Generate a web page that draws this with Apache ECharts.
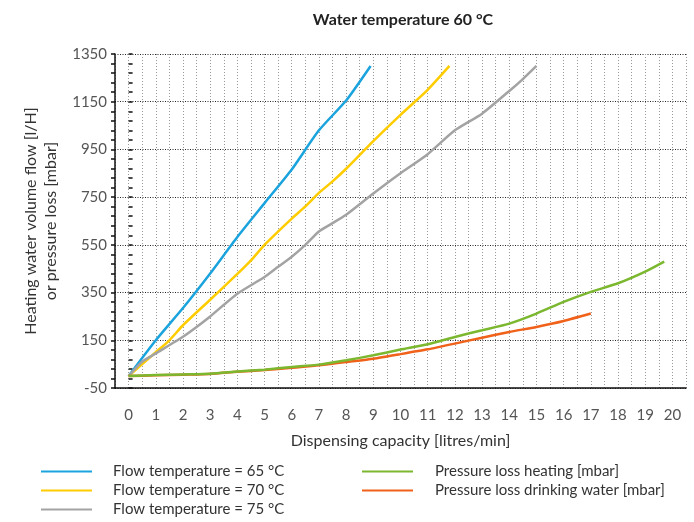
<!DOCTYPE html>
<html>
<head>
<meta charset="utf-8">
<script src="https://cdn.jsdelivr.net/npm/echarts@6/dist/echarts.min.js"></script>
<style>
    html, body { margin: 0; padding: 0; background: #fff; }
    #chart { width: 694px; height: 522px; }
</style>
</head>
<body>
<div id="chart"></div>
<script>
    // Werte
    const flow65X = [0, 1, 2, 3, 4, 5, 6, 7, 8, 8.9];
    const flow65Y = [0, 150, 285, 430, 583, 725, 866, 1030, 1155, 1300];

    const flow70X = [0, 1, 1.5, 2, 3, 4, 4.5, 5, 6, 6.5, 7, 7.5, 8, 9, 10, 11, 11.8];
    const flow70Y = [0, 100, 150, 213, 320, 428, 485, 550, 660, 711, 768, 816, 869, 985, 1095, 1200, 1300];

    const flow75X = [0, 0.5, 1, 2, 2.5, 3, 4, 5, 5.5, 6, 6.5, 7, 7.4, 8, 9, 10, 11, 12, 13, 14, 14.5, 15];
    const flow75Y = [0, 60, 95, 165, 206, 250, 345, 415, 458, 500, 550, 606, 634, 676, 765, 850, 930, 1030, 1100, 1195, 1245, 1300];

    const heatingX = [0, 1, 2, 3, 4, 5, 6, 7, 8, 9, 10, 11, 12, 13, 14, 15, 16, 17, 18, 19, 19.7];
    const heatingY = [0, 4, 7, 10, 19, 27, 38, 48, 66, 87, 111, 133, 164, 192, 220, 262, 311, 353, 389, 438, 480];

    const drinkingX = [0, 1, 2, 3, 4, 5, 6, 7, 8, 9, 10, 11, 12, 13, 14, 15, 16, 17];
    const drinkingY = [0, 3, 6, 9, 18, 25, 35, 45, 59, 73, 92, 112, 136, 161, 185, 206, 231, 262];

    const seriesNames = [
        'Flow temperature = 65 °C',
        'Flow temperature = 70 °C',
        'Flow temperature = 75 °C',
        'Pressure loss heating [mbar]',
        'Pressure loss drinking water [mbar]'
    ];
    const seriesColors = ['#1aa3dc', '#ffcc00', '#a3a3a3', '#7cb82f', '#f0611a'];

    const pairs = (xs, ys) => xs.map((x, i) => [x, ys[i]]);
    const seriesData = [
        pairs(flow65X, flow65Y),
        pairs(flow70X, flow70Y),
        pairs(flow75X, flow75Y),
        pairs(heatingX, heatingY),
        pairs(drinkingX, drinkingY)
    ];

    const font = 'Lato, "Open Sans", sans-serif';

    const chart = echarts.init(document.getElementById('chart'));
    chart.setOption({
        animation: false,
        textStyle: { fontFamily: font },
        title: {
            text: 'Water temperature 60 °C',
            left: 403,
            top: 12,
            padding: 0,
            textAlign: 'center',
            textStyle: { fontFamily: font, fontSize: 16, fontWeight: 'bold', color: '#222' }
        },
        legend: [
            {
                data: seriesNames.slice(0, 3),
                orient: 'vertical',
                left: 41,
                top: 464,
                padding: 0,
                itemWidth: 51,
                itemHeight: 2,
                itemGap: 4,
                icon: 'rect',
                textStyle: { fontFamily: font, fontSize: 15, color: '#333', padding: [0, 0, 0, 16] }
            },
            {
                data: seriesNames.slice(3),
                orient: 'vertical',
                left: 362,
                top: 464,
                padding: 0,
                itemWidth: 51,
                itemHeight: 2,
                itemGap: 4,
                icon: 'rect',
                textStyle: { fontFamily: font, fontSize: 15, color: '#333', padding: [0, 0, 0, 17] }
            }
        ],
        grid: { left: 115, right: 8, top: 54, bottom: 134 },
        xAxis: {
            type: 'value',
            min: -0.5,
            max: 20.5,
            interval: 0.5,
            name: 'Dispensing capacity [litres/min]',
            nameLocation: 'middle',
            nameGap: 45,
            nameTextStyle: { fontFamily: font, fontSize: 16, color: '#333' },
            axisLine: { onZero: false, lineStyle: { color: '#111', width: 1.5 } },
            axisTick: { show: false },
            axisLabel: {
                margin: 20,
                fontSize: 15,
                color: '#555',
                formatter: v => (Number.isInteger(v) && v >= 0 && v <= 20) ? String(v) : ''
            },
            splitLine: { show: true, lineStyle: { color: '#999', width: 1, type: [1, 2] } }
        },
        yAxis: [
            {
                type: 'value',
                min: -50,
                max: 1350,
                interval: 200,
                name: 'Heating water volume flow [l/H]\nor pressure loss [mbar]',
                nameLocation: 'middle',
                nameGap: 54,
                nameTextStyle: { fontFamily: font, fontSize: 16, color: '#333', lineHeight: 20 },
                axisLine: { onZero: false, lineStyle: { color: '#111', width: 1.5 } },
                axisTick: { show: true, length: 4, lineStyle: { color: '#111', width: 1.5 } },
                minorTick: { show: true, splitNumber: 5, length: 4, lineStyle: { color: '#111', width: 1.5 } },
                axisLabel: { margin: 8, fontSize: 15, color: '#555', formatter: v => String(v) },
                splitLine: { show: true, lineStyle: { color: '#222', width: 1, type: [1, 1.5] } }
            },
            {
                type: 'value',
                position: 'left',
                min: -50,
                max: 1350,
                interval: 200,
                axisLine: { show: false },
                axisTick: { show: true, inside: true, length: 4, lineStyle: { color: '#111', width: 1.5 } },
                minorTick: { show: true, splitNumber: 5, length: 4, lineStyle: { color: '#111', width: 1.5 } },
                axisLabel: { show: false },
                splitLine: { show: false }
            }
        ],
        series: seriesNames.map((name, i) => ({
            name: name,
            type: 'line',
            data: seriesData[i],
            showSymbol: false,
            symbol: 'none',
            smooth: 0.2,
            z: i === 3 ? 5 : 3,
            color: seriesColors[i],
            lineStyle: { width: 2.5, color: seriesColors[i] }
        }))
    });
</script>
</body>
</html>
